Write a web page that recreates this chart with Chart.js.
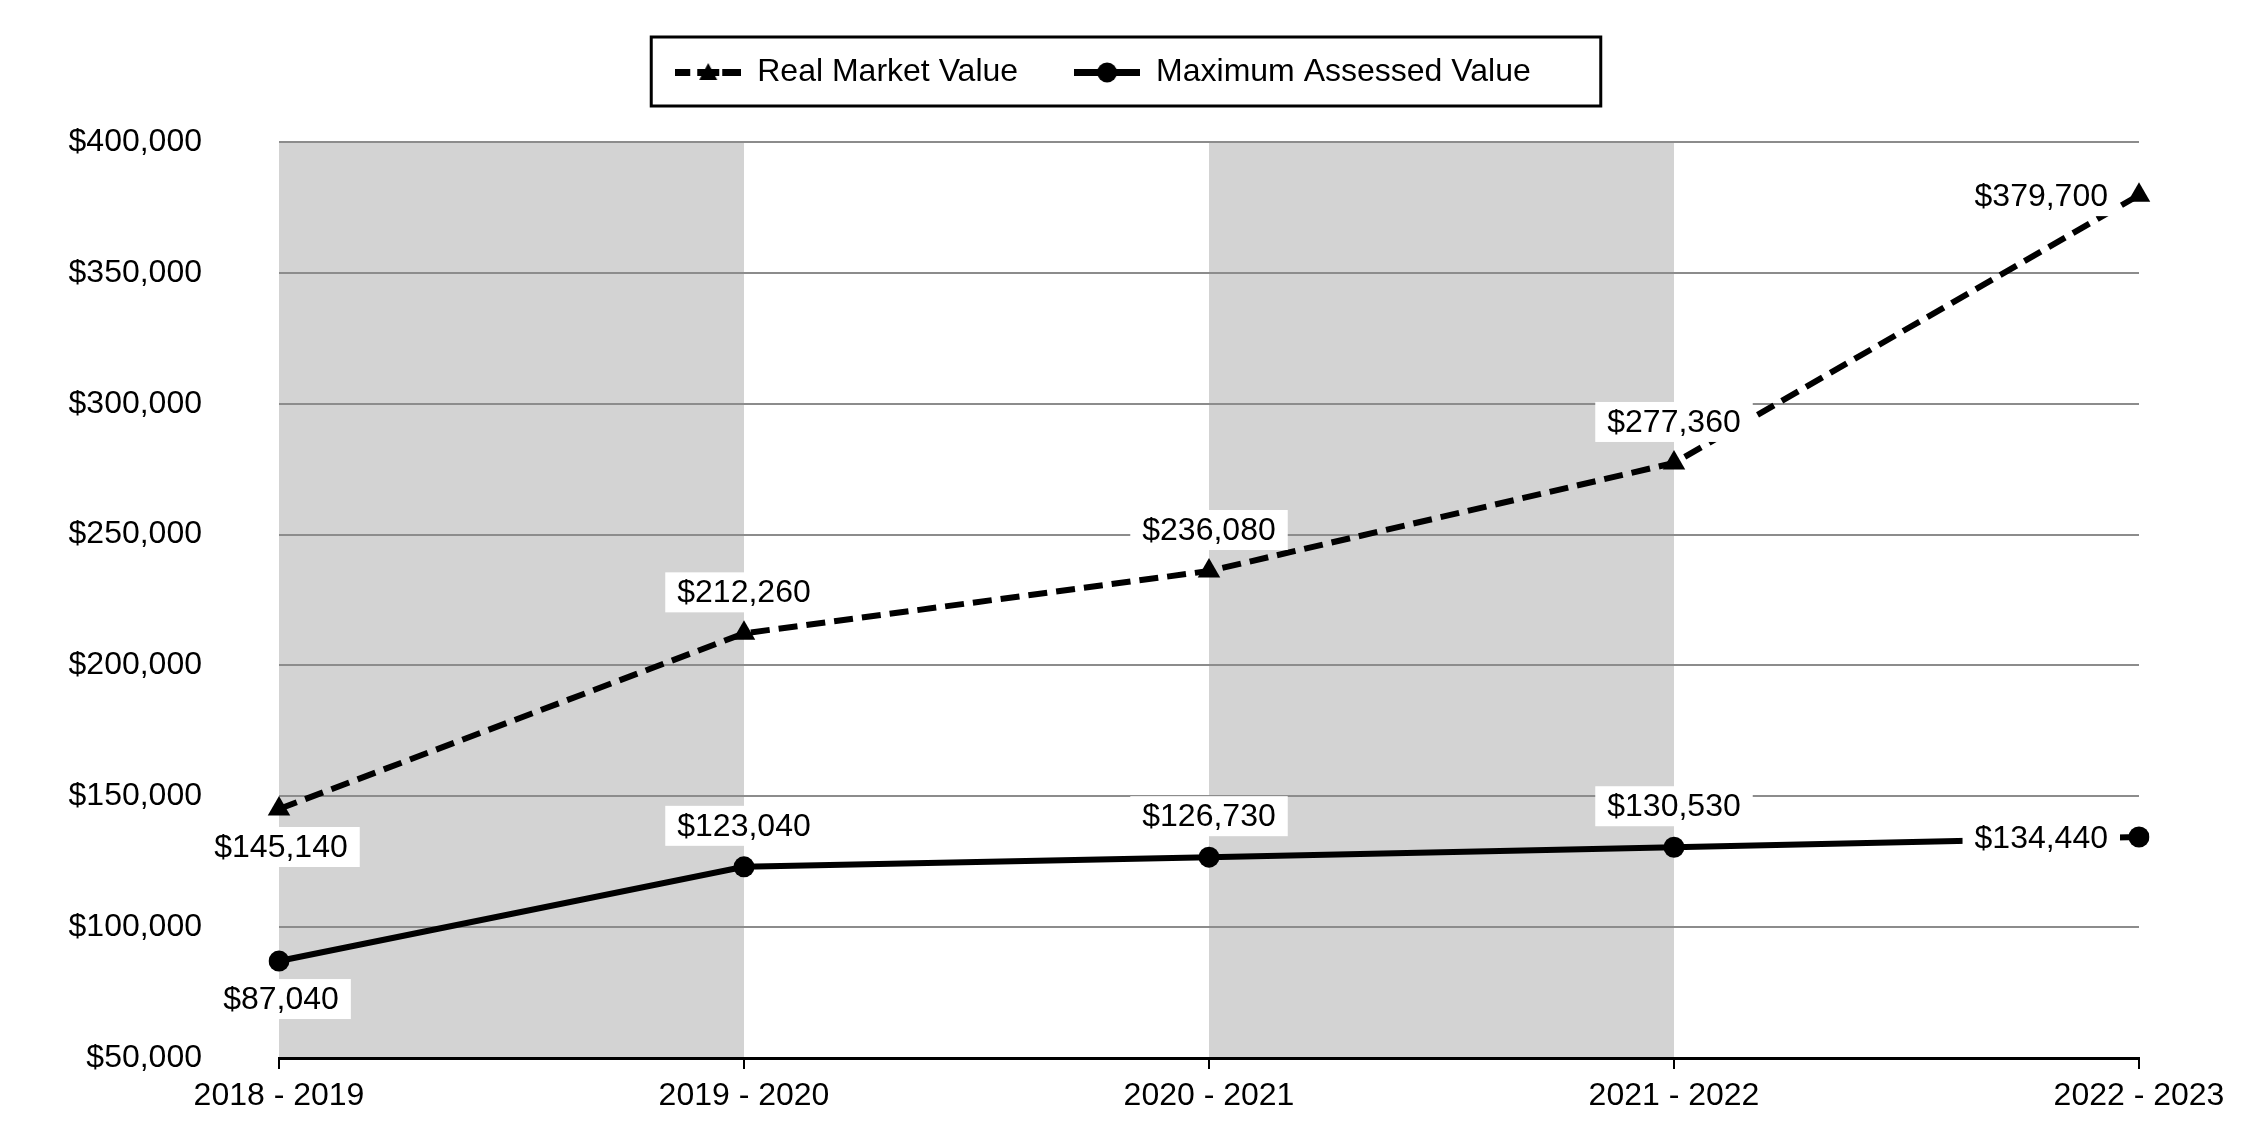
<!DOCTYPE html>
<html>
<head>
<meta charset="utf-8">
<script src="https://cdn.jsdelivr.net/npm/chart.js@4.4.1/dist/chart.umd.min.js"></script>
<style>
html,body{margin:0;padding:0;background:#fff;overflow:hidden;}
#wrap{width:2250px;height:1140px;position:relative;}
canvas{display:block;}
</style>
</head>
<body>
<div id="wrap"><canvas id="c" width="2250" height="1140"></canvas></div>
<script>
// ---- data ----
const categories = ['2018 - 2019', '2019 - 2020', '2020 - 2021', '2021 - 2022', '2022 - 2023'];
const realMarketValue = [145140, 212260, 236080, 277360, 379700];
const maximumAssessedValue = [87040, 123040, 126730, 130530, 134440];
const seriesNames = ['Real Market Value', 'Maximum Assessed Value'];
const yMin = 50000, yMax = 400000, yStep = 50000;
// shaded columns between category indices
const shadedBands = [[0, 1], [2, 3]];
// where each value label sits relative to its point
const rmvLabelPlacement = ['below', 'above', 'above', 'above', 'left'];
const mavLabelPlacement = ['below', 'above', 'above', 'above', 'left'];

const FONT = '"Liberation Sans", Arial, sans-serif';
const fmtMoney = v => '$' + Number(v).toLocaleString('en-US');

// ---- legend icons (line + marker) ----
function makeIcon(kind) {
  const c = document.createElement('canvas');
  c.width = 66; c.height = 24;
  const g = c.getContext('2d');
  g.fillStyle = '#000';
  if (kind === 'dash') {
    g.fillRect(0, 9, 15, 7);
    g.fillRect(47, 9, 19, 7);
    g.beginPath();
    g.moveTo(33, 3); g.lineTo(42, 20); g.lineTo(24, 20); g.closePath(); g.fill();
    g.fillRect(22, 9, 22, 7);
  } else {
    g.fillRect(0, 9, 66, 7);
    g.beginPath(); g.arc(33, 12.5, 10, 0, Math.PI * 2); g.fill();
  }
  return c;
}
const legendIcons = [makeIcon('dash'), makeIcon('solid')];

// ---- plugins ----
const bandsPlugin = {
  id: 'bands',
  beforeDraw(chart) {
    const {ctx, chartArea, scales} = chart;
    ctx.save();
    ctx.fillStyle = '#d3d3d3';
    shadedBands.forEach(([a, b]) => {
      const x0 = scales.x.getPixelForValue(a);
      const x1 = scales.x.getPixelForValue(b);
      ctx.fillRect(x0, chartArea.top, x1 - x0, chartArea.bottom - chartArea.top);
    });
    ctx.restore();
  }
};

const valueLabels = {
  id: 'valueLabels',
  afterDatasetsDraw(chart) {
    const ctx = chart.ctx;
    ctx.save();
    ctx.font = '32px ' + FONT;
    ctx.textBaseline = 'middle';
    ctx.textAlign = 'center';
    chart.data.datasets.forEach((ds, di) => {
      const meta = chart.getDatasetMeta(di);
      meta.data.forEach((pt, i) => {
        const text = fmtMoney(ds.data[i]);
        const w = ctx.measureText(text).width;
        const place = ds.labelPlacement[i];
        let cx, cy;
        if (place === 'above') { cx = pt.x; cy = pt.y - 41; }
        else if (place === 'below') { cx = pt.x + 2; cy = pt.y + 38; }
        else { cx = pt.x - 31 - w / 2; cy = pt.y + 1; }
        ctx.fillStyle = '#fff';
        ctx.fillRect(cx - w / 2 - 12, cy - 20, w + 24, 40);
        ctx.fillStyle = '#000';
        ctx.fillText(text, cx, cy + 1);
      });
    });
    ctx.restore();
  }
};

const legendFrame = {
  id: 'legendFrame',
  afterDraw(chart) {
    const hb = chart.legend && chart.legend.legendHitBoxes;
    if (!hb || !hb.length) return;
    const first = hb[0], last = hb[hb.length - 1];
    const left = first.left - 24;
    const right = last.left + last.width + 70;
    const top = first.top - 19;
    const bottom = first.top + first.height + 18;
    const ctx = chart.ctx;
    ctx.save();
    ctx.strokeStyle = '#000';
    ctx.lineWidth = 3;
    ctx.strokeRect(left, top, right - left, bottom - top);
    ctx.restore();
  }
};

Chart.defaults.font.family = FONT;
Chart.defaults.font.size = 32;
Chart.defaults.color = '#000';

new Chart(document.getElementById('c'), {
  type: 'line',
  data: {
    labels: categories,
    datasets: [
      {
        label: seriesNames[0],
        data: realMarketValue,
        labelPlacement: rmvLabelPlacement,
        borderColor: '#000',
        borderWidth: 6,
        borderDash: [19, 9],
        pointStyle: 'triangle',
        pointRadius: 13,
        pointBackgroundColor: '#000',
        pointBorderColor: '#000',
        pointBorderWidth: 0,
        tension: 0,
        fill: false
      },
      {
        label: seriesNames[1],
        data: maximumAssessedValue,
        labelPlacement: mavLabelPlacement,
        borderColor: '#000',
        borderWidth: 6,
        pointStyle: 'circle',
        pointRadius: 10.5,
        pointBackgroundColor: '#000',
        pointBorderColor: '#000',
        pointBorderWidth: 0,
        tension: 0,
        fill: false
      }
    ]
  },
  options: {
    responsive: false,
    animation: false,
    devicePixelRatio: 1,
    layout: { padding: { left: 67, right: 111, top: 0, bottom: 0 } },
    plugins: {
      legend: {
        position: 'top',
        align: 'center',
        labels: {
          usePointStyle: true,
          pointStyleWidth: 66,
          padding: 56,
          color: '#000',
          font: { size: 32, family: FONT },
          generateLabels(chart) {
            return chart.data.datasets.map((ds, i) => ({
              text: ds.label,
              pointStyle: legendIcons[i],
              fillStyle: '#000',
              strokeStyle: '#000',
              lineWidth: 0,
              hidden: false,
              datasetIndex: i
            }));
          }
        }
      },
      title: {
        display: true,
        text: '',
        weight: 500,
        font: { size: 20 },
        padding: { top: 0, bottom: 20 }
      },
      tooltip: { enabled: false }
    },
    scales: {
      x: {
        type: 'category',
        offset: false,
        afterFit(scale) { scale.height = 82; },
        grid: {
          display: true,
          drawOnChartArea: false,
          drawTicks: true,
          tickLength: 11,
          color: '#000',
          lineWidth: 2
        },
        border: { display: true, color: '#000', width: 3 },
        ticks: { padding: 8, color: '#000', font: { size: 32, family: FONT }, maxRotation: 0, autoSkip: false }
      },
      y: {
        min: yMin,
        max: yMax,
        afterFit(scale) { scale.width = 212; },
        grid: {
          drawTicks: true,
          tickLength: 77,
          tickColor: 'rgba(0,0,0,0)',
          lineWidth: 2,
          color: ctx => (ctx.tick && ctx.tick.value === yMin) ? 'rgba(0,0,0,0)' : '#8c8c8c'
        },
        border: { display: false },
        ticks: {
          stepSize: yStep,
          padding: 0,
          color: '#000',
          font: { size: 32, family: FONT },
          callback: v => fmtMoney(v)
        }
      }
    }
  },
  plugins: [bandsPlugin, valueLabels, legendFrame]
});
</script>
</body>
</html>
